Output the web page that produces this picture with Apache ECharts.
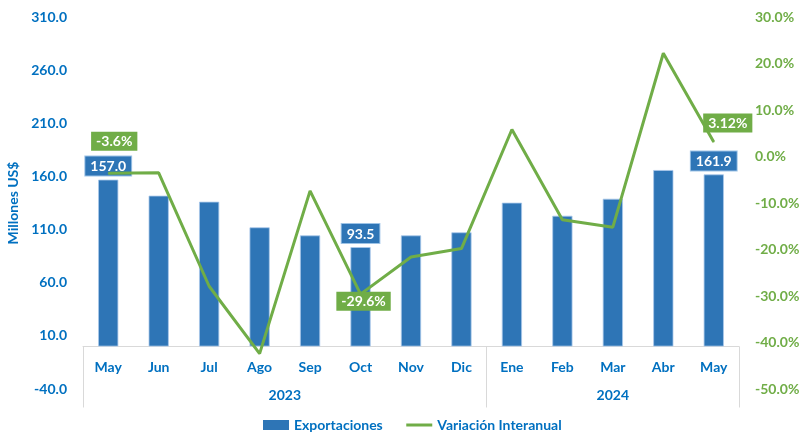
<!DOCTYPE html>
<html>
<head>
<meta charset="utf-8">
<script src="https://cdn.jsdelivr.net/npm/echarts@6/dist/echarts.min.js"></script>
<style>
  html, body { margin: 0; padding: 0; background: #fff; }
  #chart { width: 800px; height: 433px; }
</style>
</head>
<body>
<div id="chart"></div>
<script>
const months = ['May', 'Jun', 'Jul', 'Ago', 'Sep', 'Oct', 'Nov', 'Dic', 'Ene', 'Feb', 'Mar', 'Abr', 'May']
const years = ['2023', '2023', '2023', '2023', '2023', '2023', '2023', '2023', '2024', '2024', '2024', '2024', '2024']
const exportaciones = [157.0, 141.9, 136.2, 112.1, 104.5, 93.5, 104.5, 107.4, 135.3, 123.0, 139.0, 166.0, 161.9]
const variacion = [-3.6, -3.5, -27.9, -42.4, -7.4, -29.6, -21.6, -19.8, 5.8, -13.6, -15.2, 22.2, 3.12]
const labeledIdx = [0, 5, 12]

const FONT = 'Lato'
const BLUE = '#0070C0'
const BAR = '#2E75B6'
const GREEN = '#70AD47'

// visible axis ranges
const leftMin = -40, leftMax = 310, leftStep = 50
const rightMin = -50, rightMax = 30, rightStep = 10

const G = { left: 83, right: 61, top: 17, bottom: 44, height: 433 - 17 - 44 }
// the bars stand on zero, so the plotting grid ends at the zero line
const zeroFrac = (0 - leftMin) / (leftMax - leftMin)
const plotBottom = G.bottom + zeroFrac * G.height
const rightAtZero = rightMin + zeroFrac * (rightMax - rightMin)

// where each year label sits (middle of its months)
const yearPos = {}
years.forEach((y, i) => {
  if (!yearPos[y]) yearPos[y] = { first: i, last: i }
  yearPos[y].last = i
})
const yearLabelAt = {}
Object.keys(yearPos).forEach(y => {
  const mid = (yearPos[y].first + yearPos[y].last) / 2
  yearLabelAt[Math.floor(mid)] = { text: y, half: mid % 1 !== 0 }
})
const yearStarts = Object.keys(yearPos).map(y => yearPos[y].first)

const bandWidth = (800 - G.left - G.right) / months.length

// label placement for the line points
const lineLabelPos = {
  0: { position: 'top', distance: 22, offset: [6, 0] },
  5: { position: 'bottom', distance: -3, offset: [3, 0] },
  12: { position: 'top', distance: 9, offset: [14, 0] }
}

const labelBox = {
  color: '#fff',
  fontSize: 14,
  fontWeight: 'bold',
  fontFamily: FONT,
  padding: [3, 5, 2, 5]
}

const barData = exportaciones.map((v, i) => {
  if (labeledIdx.indexOf(i) < 0) return v
  return {
    value: v,
    label: Object.assign({
      show: true,
      position: 'top',
      distance: 4,
      backgroundColor: BAR,
      borderColor: '#9dc3e6',
      borderWidth: 1,
      formatter: p => p.value.toFixed(1)
    }, labelBox)
  }
})

const lineData = variacion.map((v, i) => {
  if (labeledIdx.indexOf(i) < 0) return v
  return {
    value: v,
    label: Object.assign({
      show: true,
      backgroundColor: GREEN,
      formatter: p => p.value + '%'
    }, labelBox, lineLabelPos[i])
  }
})

const axisText = { fontSize: 14, fontWeight: 'bold', fontFamily: FONT }

const chart = echarts.init(document.getElementById('chart'))
chart.setOption({
  backgroundColor: '#fff',
  animation: false,
  textStyle: { fontFamily: FONT },
  grid: [
    { left: G.left, right: G.right, top: G.top, bottom: G.bottom, outerBoundsMode: 'none' },
    { left: G.left, right: G.right, top: G.top, bottom: plotBottom, outerBoundsMode: 'none' }
  ],
  legend: {
    left: 258,
    top: 413,
    itemWidth: 26,
    itemHeight: 10,
    itemGap: 22,
    textStyle: Object.assign({ color: BLUE }, axisText),
    data: [
      { name: 'Exportaciones', icon: 'rect', itemStyle: { borderWidth: 0 } },
      { name: 'Variación Interanual', itemStyle: { opacity: 0 }, lineStyle: { width: 3 } }
    ]
  },
  xAxis: [{
    gridIndex: 0,
    type: 'category',
    data: months,
    show: false
  }, {
    gridIndex: 1,
    type: 'category',
    position: 'bottom',
    data: months,
    axisLine: { onZero: false, lineStyle: { color: '#d9d9d9', width: 1 } },
    axisTick: { show: false },
    axisLabel: Object.assign({ color: BLUE, margin: 14, interval: 0 }, axisText)
  }, {
    gridIndex: 1,
    type: 'category',
    position: 'bottom',
    data: years,
    axisLine: { show: false, onZero: false },
    axisTick: {
      show: true,
      length: 61,
      interval: idx => yearStarts.indexOf(idx) >= 0,
      lineStyle: { color: '#d9d9d9', width: 1 }
    },
    axisLabel: {
      interval: idx => !!yearLabelAt[idx],
      margin: 42,
      formatter: (val, idx) => {
        const l = yearLabelAt[idx]
        if (!l) return ''
        return l.half ? '{s|' + l.text + '}' : '{n|' + l.text + '}'
      },
      rich: {
        s: Object.assign({ color: BLUE, padding: [0, 0, 0, bandWidth] }, axisText),
        n: Object.assign({ color: BLUE }, axisText)
      }
    }
  }],
  yAxis: [{
    gridIndex: 0,
    type: 'value',
    min: leftMin,
    max: leftMax,
    interval: leftStep,
    name: 'Millones US$',
    nameLocation: 'middle',
    nameGap: 61,
    nameTextStyle: Object.assign({ color: BLUE }, axisText),
    axisLine: { show: false },
    axisTick: { show: false },
    splitLine: { show: false },
    axisLabel: Object.assign({ color: BLUE, margin: 16, formatter: v => v.toFixed(1) }, axisText)
  }, {
    gridIndex: 0,
    type: 'value',
    min: rightMin,
    max: rightMax,
    interval: rightStep,
    position: 'right',
    axisLine: { show: false },
    axisTick: { show: false },
    splitLine: { show: false },
    axisLabel: Object.assign({ color: GREEN, margin: 16, formatter: v => v.toFixed(1) + '%' }, axisText)
  }, {
    gridIndex: 1,
    type: 'value',
    min: 0,
    max: leftMax,
    show: false,
    splitLine: { show: false }
  }, {
    gridIndex: 1,
    type: 'value',
    min: rightAtZero,
    max: rightMax,
    position: 'right',
    show: false,
    splitLine: { show: false }
  }],
  series: [{
    name: 'Exportaciones',
    type: 'bar',
    xAxisIndex: 1,
    yAxisIndex: 2,
    barWidth: '40%',
    itemStyle: { color: BAR, borderColor: '#a9c8ea', borderWidth: 0.8 },
    data: barData
  }, {
    name: 'Variación Interanual',
    type: 'line',
    xAxisIndex: 1,
    yAxisIndex: 3,
    clip: false,
    symbol: 'circle',
    symbolSize: 1,
    showSymbol: true,
    z: 3,
    itemStyle: { color: GREEN },
    lineStyle: { color: GREEN, width: 3 },
    data: lineData
  }]
})
</script>
</body>
</html>
